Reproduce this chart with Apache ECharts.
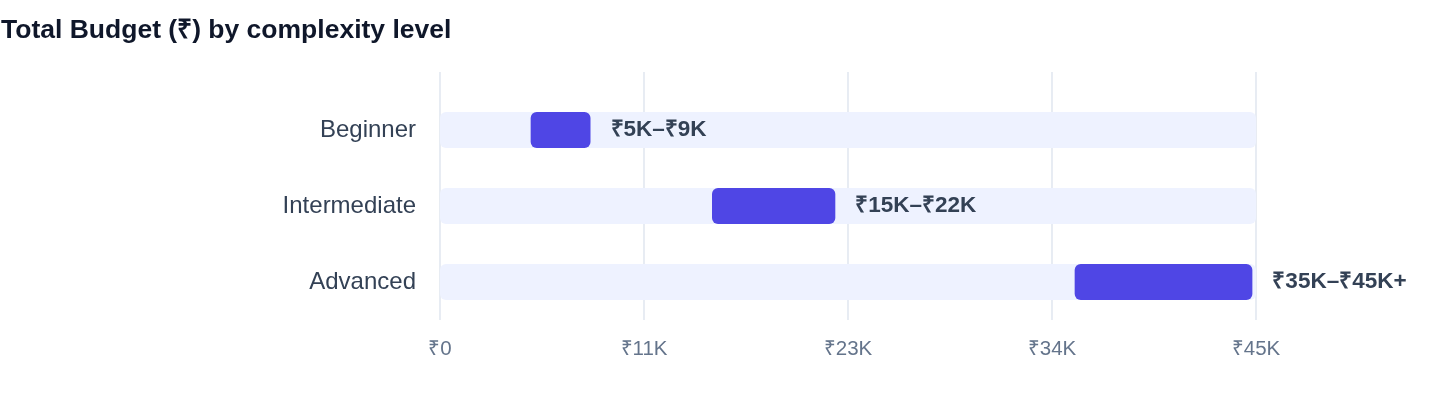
<!DOCTYPE html>
<html>
<head>
<meta charset="utf-8">
<script src="https://cdn.jsdelivr.net/npm/echarts@6/dist/echarts.min.js"></script>
<style>
  html, body { margin: 0; padding: 0; background: #ffffff; }
  #chart { width: 1440px; height: 408px; }
</style>
</head>
<body>
<div id="chart"></div>
<script>
const categories = ['Beginner', 'Intermediate', 'Advanced'];
const rangeStart = [5000, 15000, 35000];
const rangeEnd = [8300, 21800, 44800];
const rangeLabels = ['₹5K–₹9K', '₹15K–₹22K', '₹35K–₹45K+'];
const trackMax = [45000, 45000, 45000];
const tickLabels = ['₹0', '₹11K', '₹23K', '₹34K', '₹45K'];

const FONT = 'Helvetica, Arial, "Liberation Sans", sans-serif';
const chart = echarts.init(document.getElementById('chart'));
const option = {
  backgroundColor: '#ffffff',
  animation: false,
  textStyle: { fontFamily: FONT },
  title: {
    text: 'Total Budget (₹) by complexity level',
    left: 1,
    top: 17,
    padding: 0,
    textStyle: { fontFamily: FONT, fontSize: 26.5, fontWeight: 'bold', color: '#0F172A' }
  },
  grid: [
    { left: 440, right: 184, top: 72, bottom: 88 },
    { left: 440, right: 184, top: 92, bottom: 88 }
  ],
  xAxis: [
    {
      gridIndex: 0, type: 'value', min: 0, max: 45000, interval: 11250,
      axisLine: { show: false }, axisTick: { show: false },
      splitLine: { show: true, lineStyle: { color: '#E2E8F0', width: 1.6 } },
      axisLabel: {
        margin: 19, fontSize: 20.5, color: '#64748B', fontFamily: FONT,
        formatter: (v, i) => tickLabels[i]
      }
    },
    {
      gridIndex: 1, type: 'value', min: 0, max: 45000, show: false,
      splitLine: { show: false }
    }
  ],
  yAxis: [
    { gridIndex: 0, type: 'category', data: categories, show: false },
    {
      gridIndex: 1, type: 'category', data: categories, inverse: true,
      axisLine: { show: false }, axisTick: { show: false },
      axisLabel: { margin: 24, fontSize: 24, color: '#334155', fontFamily: FONT }
    }
  ],
  series: [
    {
      name: 'track', type: 'bar', xAxisIndex: 1, yAxisIndex: 1,
      data: trackMax, barWidth: 36, barGap: '-100%', silent: true,
      itemStyle: { color: '#EEF2FF', borderRadius: 6 }, z: 1
    },
    {
      name: 'base', type: 'bar', xAxisIndex: 1, yAxisIndex: 1, stack: 'r',
      data: rangeStart, barWidth: 36, silent: true,
      itemStyle: { color: 'transparent' }, z: 2
    },
    {
      name: 'range', type: 'bar', xAxisIndex: 1, yAxisIndex: 1, stack: 'r',
      data: rangeEnd.map((e, i) => e - rangeStart[i]), barWidth: 36,
      itemStyle: { color: '#4F46E5', borderRadius: 6 }, z: 3,
      label: {
        show: true, position: 'right', distance: 20,
        fontSize: 22.5, fontWeight: 'bold', color: '#334155', fontFamily: FONT,
        formatter: (p) => rangeLabels[p.dataIndex]
      }
    }
  ]
};
chart.setOption(option);
</script>
</body>
</html>
